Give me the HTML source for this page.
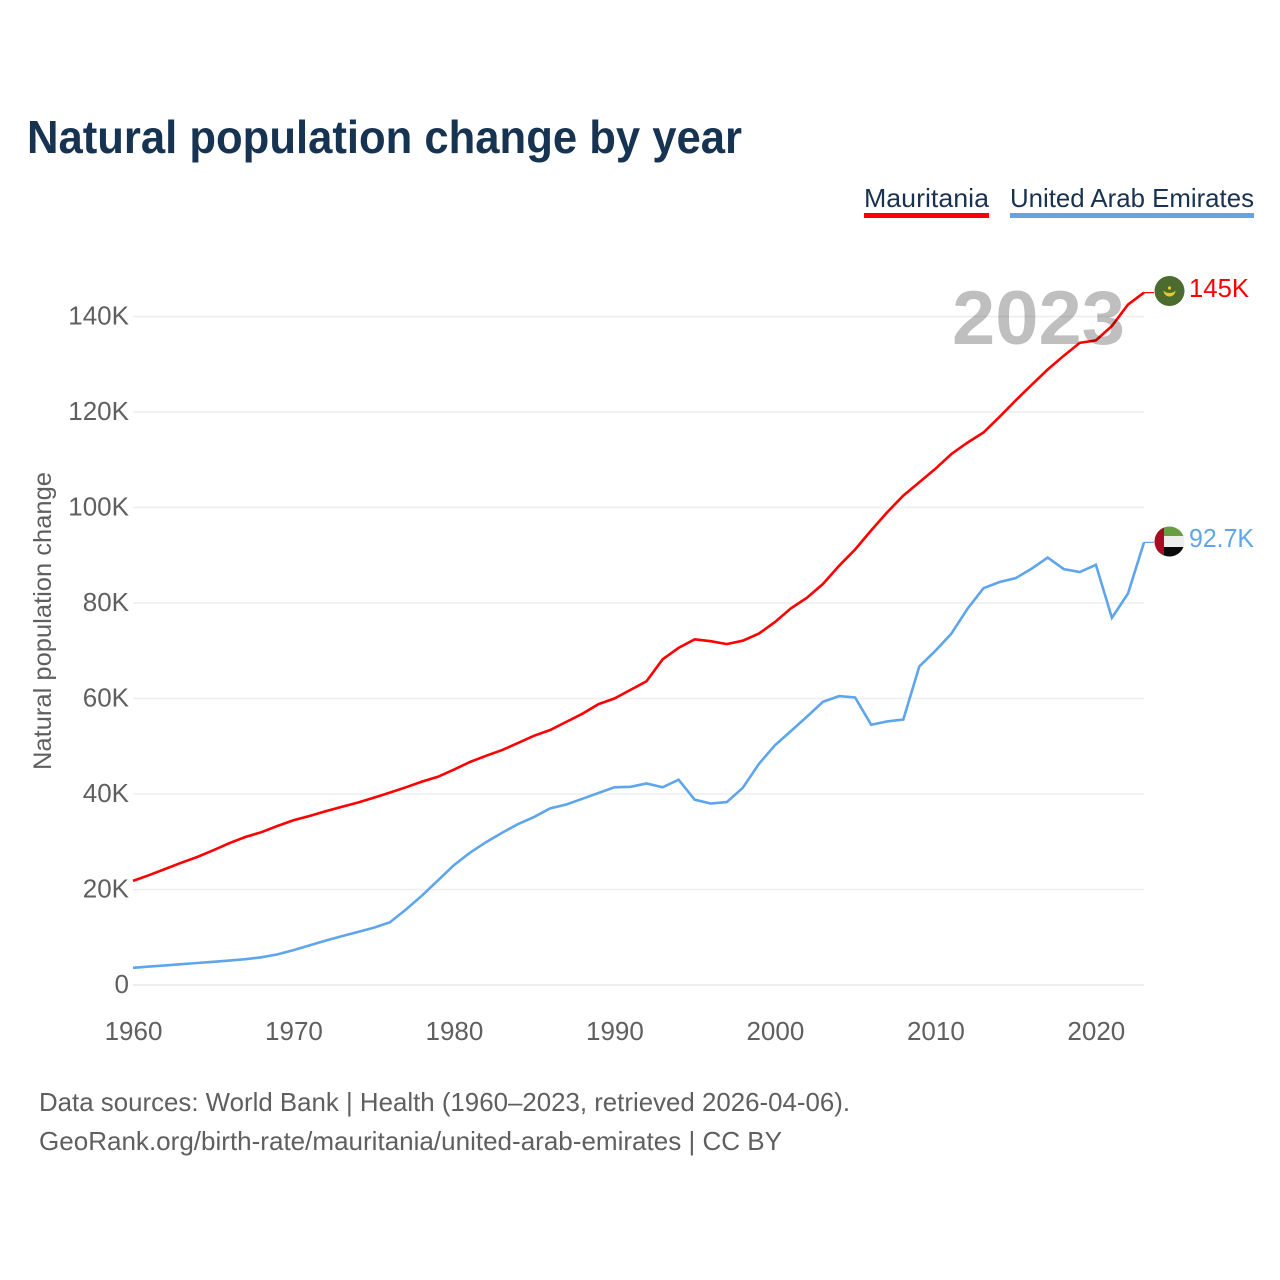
<!DOCTYPE html>
<html lang="en">
<head>
<meta charset="utf-8">
<title>Natural population change by year</title>
<style>
html,body{margin:0;padding:0;background:#fff;}
svg{display:block;font-family:"Liberation Sans",sans-serif;}
</style>
</head>
<body>
<svg id="chart" xmlns="http://www.w3.org/2000/svg" width="1280" height="1280" viewBox="0 0 1280 1280">
  <rect width="1280" height="1280" fill="#fff"/>
  <text x="27" y="153" font-size="46" font-weight="700" fill="#173352" textLength="715" lengthAdjust="spacingAndGlyphs">Natural population change by year</text>

  <g>
    <text x="864" y="207" font-size="26" fill="#18324f" textLength="125" lengthAdjust="spacingAndGlyphs">Mauritania</text>
    <rect x="864" y="213" width="125" height="5" fill="#ff0000"/>
  </g>
  <g>
    <text x="1010" y="207" font-size="26" fill="#18324f" textLength="244" lengthAdjust="spacingAndGlyphs">United Arab Emirates</text>
    <rect x="1010" y="213" width="244" height="5" fill="#5fa5ec"/>
  </g>

  <g id="grid"></g>
  <g id="y-ticks" font-size="26" fill="#5f5f5f" text-anchor="end"></g>
  <g id="x-ticks" font-size="26" fill="#5f5f5f" text-anchor="middle"></g>
  <text transform="translate(51 621) rotate(-90)" font-size="25" fill="#5f5f5f" text-anchor="middle" textLength="298" lengthAdjust="spacingAndGlyphs">Natural population change</text>

  <g id="series"></g>

  <text x="952" y="344" font-size="76" font-weight="700" fill="#bfbfbf" textLength="173" lengthAdjust="spacingAndGlyphs" style="mix-blend-mode:multiply">2023</text>

  <defs>
    <clipPath id="clip-uae"><circle cx="1169.5" cy="541.5" r="15"/></clipPath>
  </defs>
  <g>
    <circle cx="1169.5" cy="291" r="15" fill="#4c6b2e"/>
    <path d="M1163.5 290.5 A6 6 0 0 0 1175.5 290.5 A6.5 4 0 0 1 1163.5 290.5 Z" fill="#e8c82e"/>
    <circle cx="1169.5" cy="288" r="1.6" fill="#e8c82e"/>
  </g>
  <g clip-path="url(#clip-uae)">
    <rect x="1154" y="526" width="32" height="11" fill="#6a9c42"/>
    <rect x="1154" y="536" width="32" height="11" fill="#eeeeee"/>
    <rect x="1154" y="547" width="32" height="11" fill="#0a0a0a"/>
    <rect x="1154" y="526" width="10" height="32" fill="#a80c22"/>
  </g>
  <text x="1189" y="297" font-size="26" fill="#ff0000" textLength="60" lengthAdjust="spacingAndGlyphs">145K</text>
  <text x="1189" y="547" font-size="26" fill="#5fa5ec" textLength="65" lengthAdjust="spacingAndGlyphs">92.7K</text>

  <text x="39" y="1111" font-size="26" fill="#5f5f5f" textLength="811" lengthAdjust="spacingAndGlyphs">Data sources: World Bank | Health (1960–2023, retrieved 2026-04-06).</text>
  <text x="39" y="1150" font-size="26" fill="#5f5f5f" textLength="743" lengthAdjust="spacingAndGlyphs">GeoRank.org/birth-rate/mauritania/united-arab-emirates | CC BY</text>
</svg>
<script>
const startYear = 1960;
const mauritania = [21.8,23,24.3,25.6,26.8,28.2,29.7,31,32,33.3,34.5,35.4,36.4,37.3,38.2,39.2,40.3,41.4,42.6,43.6,45.1,46.7,48,49.2,50.7,52.2,53.4,55.1,56.8,58.8,60,61.8,63.6,68.2,70.6,72.4,72,71.4,72.1,73.6,76,78.9,81.1,84,87.8,91.2,95.2,99,102.5,105.3,108.1,111.2,113.6,115.7,119,122.4,125.7,128.9,131.8,134.5,135,138,142.5,145];
const uae = [3.6,3.85,4.1,4.35,4.6,4.85,5.1,5.4,5.8,6.4,7.3,8.3,9.3,10.2,11.1,12,13.1,15.8,18.7,21.9,25.1,27.7,29.9,31.9,33.7,35.2,37,37.8,39,40.2,41.4,41.5,42.2,41.4,43,38.8,38,38.3,41.3,46.3,50.2,53.2,56.2,59.3,60.5,60.2,54.5,55.2,55.6,66.7,70,73.6,78.8,83.1,84.4,85.2,87.2,89.5,87.1,86.5,88,76.9,82,92.7];
const yTickValues = [0,20,40,60,80,100,120,140];
const yTickLabels = ["0","20K","40K","60K","80K","100K","120K","140K"];
const xTickValues = [1960,1970,1980,1990,2000,2010,2020];

const NS = "http://www.w3.org/2000/svg";
const xLeft = 133, xRight = 1144, yZero = 985, yPerK = 95.5 / 20;
function xScale(year) { return xLeft + (year - 1960) * (xRight - xLeft) / 63; }
function yScale(k) { return yZero - k * yPerK; }

const gridGroup = document.getElementById("grid");
const yGroup = document.getElementById("y-ticks");
yTickValues.forEach(function (v, i) {
  const line = document.createElementNS(NS, "line");
  
  
  line.setAttribute("x1", xLeft);
  line.setAttribute("x2", xRight);
  line.setAttribute("y1", yScale(v));
  line.setAttribute("y2", yScale(v));
  line.setAttribute("stroke", "#eeeeee");
  line.setAttribute("stroke-width", v === 0 ? 2 : 1.4);
  gridGroup.appendChild(line);
  const t = document.createElementNS(NS, "text");
  
  
  t.setAttribute("x", 129);
  t.setAttribute("y", yScale(v) + 8);
  t.textContent = yTickLabels[i];
  yGroup.appendChild(t);
});

const xGroup = document.getElementById("x-ticks");
xTickValues.forEach(function (year) {
  const t = document.createElementNS(NS, "text");
  
  
  t.setAttribute("x", xScale(year) + 0.5);
  t.setAttribute("y", 1040);
  t.textContent = String(year);
  xGroup.appendChild(t);
});

const seriesGroup = document.getElementById("series");
function linePoints(values) {
  return values.map(function (v, i) {
    return xScale(startYear + i).toFixed(1) + "," + yScale(v).toFixed(1);
  }).join(" ");
}
const uaeLine = document.createElementNS(NS, "polyline");


uaeLine.setAttribute("points", linePoints(uae));
uaeLine.setAttribute("fill", "none");
uaeLine.setAttribute("stroke", "#5fa5ec");
uaeLine.setAttribute("stroke-width", 2.6);
seriesGroup.appendChild(uaeLine);
const mauritaniaLine = document.createElementNS(NS, "polyline");


mauritaniaLine.setAttribute("points", linePoints(mauritania));
mauritaniaLine.setAttribute("fill", "none");
mauritaniaLine.setAttribute("stroke", "#ff0000");
mauritaniaLine.setAttribute("stroke-width", 2.6);
seriesGroup.appendChild(mauritaniaLine);

const uaeConnector = document.createElementNS(NS, "line");


uaeConnector.setAttribute("x1", xRight);
uaeConnector.setAttribute("x2", xRight + 10);
uaeConnector.setAttribute("y1", yScale(uae[uae.length - 1]));
uaeConnector.setAttribute("y2", yScale(uae[uae.length - 1]));
uaeConnector.setAttribute("stroke", "#5fa5ec");
uaeConnector.setAttribute("stroke-width", 1.2);
seriesGroup.appendChild(uaeConnector);
const mauritaniaConnector = document.createElementNS(NS, "line");


mauritaniaConnector.setAttribute("x1", xRight);
mauritaniaConnector.setAttribute("x2", xRight + 10);
mauritaniaConnector.setAttribute("y1", yScale(mauritania[mauritania.length - 1]));
mauritaniaConnector.setAttribute("y2", yScale(mauritania[mauritania.length - 1]));
mauritaniaConnector.setAttribute("stroke", "#ff0000");
mauritaniaConnector.setAttribute("stroke-width", 1.2);
seriesGroup.appendChild(mauritaniaConnector);
</script>
</body>
</html>
